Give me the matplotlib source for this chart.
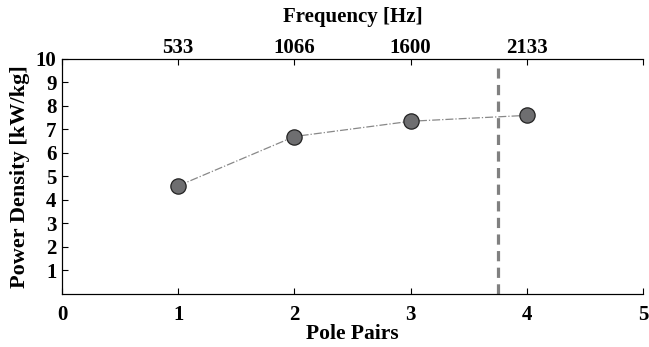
import matplotlib.pyplot as plt

pole_pairs = [1, 2, 3, 4]
power_density = [4.6, 6.7, 7.35, 7.6]
freq_labels = ['533', '1066', '1600', '2133']
limit_x = 3.75

plt.rcParams['font.family'] = 'Liberation Serif'
plt.rcParams['font.weight'] = 'bold'

fig = plt.figure(figsize=(6.49, 3.47), dpi=100)
ax = fig.add_axes([0.0955, 0.153, 0.8955, 0.677])

ax.plot(pole_pairs, power_density, '-.', color='#888888', lw=0.9, zorder=2)
ax.plot(pole_pairs, power_density, 'o', ms=11, mfc='#6e6e70', mec='#222222', mew=0.9, zorder=3)
ax.plot([limit_x, limit_x], [0, 9.6], '--', color='#808080', lw=2.3, dashes=(3.2, 2.0), zorder=1)

ax.set_xlim(0, 5)
ax.set_ylim(0, 10)
ax.set_xticks(range(6))
ax.set_yticks(range(1, 11))
ax.tick_params(direction='in', labelsize=15, length=4, width=0.8)
ax.tick_params(axis='x', pad=8)
ax.tick_params(axis='y', pad=4)
ax.spines['right'].set_visible(False)
ax.set_xlabel('Pole Pairs', fontsize=15.5, fontweight='bold', labelpad=-1)
ax.set_ylabel('Power Density [kW/kg]', fontsize=16, fontweight='bold', labelpad=4)

top = ax.twiny()
top.set_xlim(0, 5)
top.set_xticks(range(6))
top.set_xticklabels([''] + freq_labels + [''])
top.tick_params(direction='in', labelsize=15, length=4, width=0.8, pad=1)
top.spines['right'].set_visible(False)
top.set_xlabel('Frequency [Hz]', fontsize=15, fontweight='bold', labelpad=11)

fig.savefig('out.png', dpi=100)
